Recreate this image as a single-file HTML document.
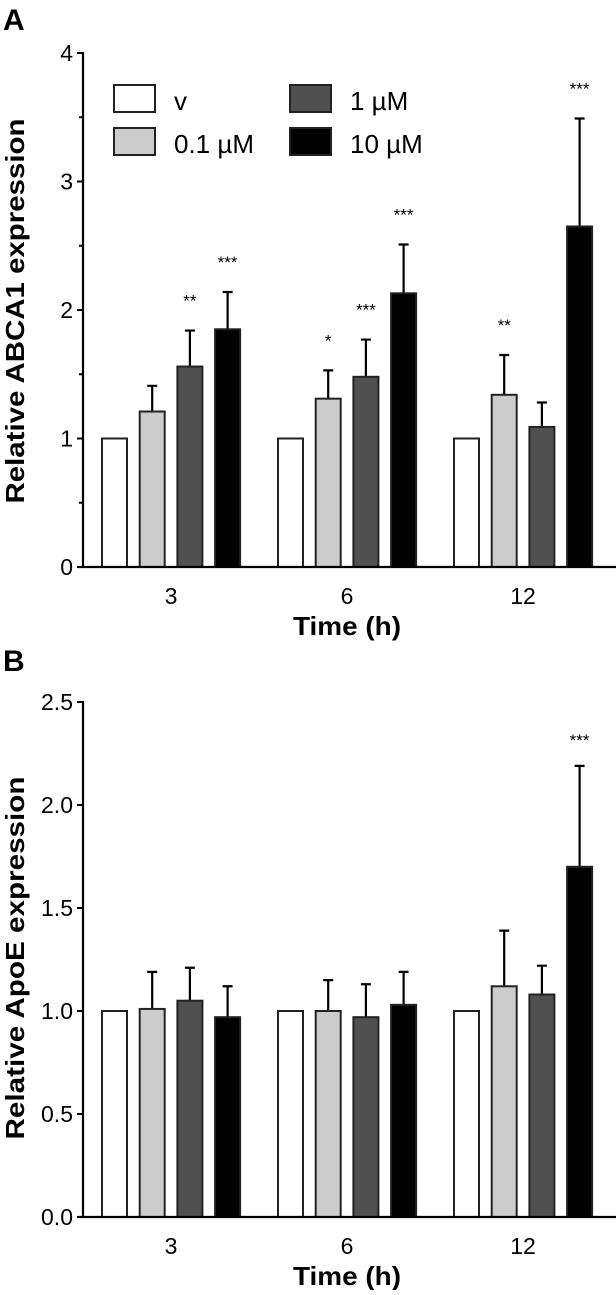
<!DOCTYPE html>
<html><head><meta charset="utf-8"><style>
body{margin:0;background:#fff;}
svg text{font-family:"Liberation Sans",sans-serif;fill:#000;}
</style></head><body>
<svg id="chart" width="616" height="1290" xmlns="http://www.w3.org/2000/svg"></svg>
<script>
const categories=["3","6","12"];
const seriesNames=["v","0.1 µM","1 µM","10 µM"];
const seriesFill=["#ffffff","#cccccc","#505050","#000000"];
const abcaMean=[[1,1,1],[1.21,1.31,1.34],[1.56,1.48,1.09],[1.85,2.13,2.65]];
const abcaTop=[[1,1,1],[1.41,1.53,1.65],[1.84,1.77,1.28],[2.14,2.51,3.49]];
const abcaSig=[["","",""],["","*","**"],["**","***",""],["***","***","***"]];
const abcaTicks=[0,1,2,3,4];
const apoeMean=[[1,1,1],[1.01,1.0,1.12],[1.05,0.97,1.08],[0.97,1.03,1.70]];
const apoeTop=[[1,1,1],[1.19,1.15,1.39],[1.21,1.13,1.22],[1.12,1.19,2.19]];
const apoeSig=[["","",""],["","",""],["","",""],["","","***"]];
const apoeTicks=["0.0","0.5","1.0","1.5","2.0","2.5"];

const svg=document.getElementById('chart');
const NS="http://www.w3.org/2000/svg";
function mk(tag,attrs,parent){const e=document.createElementNS(NS,tag);for(const k in attrs)e.setAttribute(k,attrs[k]);(parent||svg).appendChild(e);return e;}
function txt(s,attrs,parent){const e=mk('text',attrs,parent);e.textContent=s;return e;}

function panel(opt){
  const g=mk('g',{});
  
  
  const y=v=>opt.y0-(v-0)/(opt.max)*(opt.y0-opt.yTop);
  const xGroup=i=>102+i*176;
  const bx=(i,s)=>xGroup(i)+s*37.7;
  const L=txt(opt.letter,{x:3,y:opt.letterY,'font-size':30,'font-weight':'bold'},g);
  
  for(let s=0;s<4;s++){for(let i=0;i<3;i++){
    const m=opt.mean[s][i],t=opt.top[s][i];
    const cx=bx(i,s)+12.5;
    if(t>m){const eb=mk('path',{d:`M${cx},${y(m)} V${y(t)} M${cx-5},${y(t)} H${cx+5}`,stroke:'#000','stroke-width':2.2,fill:'none'},g);
      }
    const r=mk('rect',{x:bx(i,s),y:y(m),width:25,height:y(0)-y(m),fill:seriesFill[s],stroke:'#222','stroke-width':2},g);
    
    const sg=opt.sig[s][i];
    if(sg){const st=txt(sg,{x:cx,y:y(t)-opt.sigOff,'text-anchor':'middle','font-size':17,fill:'#222'},g);
      }
  }}
  const ya=mk('line',{x1:83,y1:opt.yTop-1,x2:83,y2:opt.y0+1,stroke:'#000','stroke-width':2.2},g);
  
  const xa=mk('line',{x1:78,y1:opt.y0,x2:616,y2:opt.y0,stroke:'#000','stroke-width':2.2},g);
  
  opt.ticks.forEach((tk,k)=>{
    const v=parseFloat(tk);
    mk('line',{x1:77,y1:y(v),x2:83,y2:y(v),stroke:'#000','stroke-width':2},g);
    const tl=txt(String(tk),{x:73,y:y(v)+8,'text-anchor':'end','font-size':23},g);
    
    if(opt.minor&&k<opt.ticks.length-1){mk('line',{x1:79,y1:y(v+0.5),x2:83,y2:y(v+0.5),stroke:'#000','stroke-width':2},g);}
  });
  categories.forEach((c,i)=>{
    const xl=txt(c,{x:xGroup(i)+69,y:opt.y0+37,'text-anchor':'middle','font-size':23},g);
    
  });
  const xt=txt('Time (h)',{x:347,y:opt.y0+68,'text-anchor':'middle','font-size':26,'font-weight':'bold',textLength:108,lengthAdjust:'spacingAndGlyphs'},g);
  
  const yt=txt(opt.title,{x:0,y:0,'text-anchor':'middle','font-size':26,'font-weight':'bold',textLength:opt.titleLen,lengthAdjust:'spacingAndGlyphs',transform:`translate(24,${opt.titleY}) rotate(-90)`},g);
  
  return g;
}
panel({name:'panel-a-abca1',letter:'A',letterY:30,yTop:53,y0:567,max:4,ticks:abcaTicks,minor:true,mean:abcaMean,top:abcaTop,sig:abcaSig,sigOff:24,title:'Relative ABCA1 expression',titleY:311,titleLen:385});
panel({name:'panel-b-apoe',letter:'B',letterY:671,yTop:702,y0:1217,max:2.5,ticks:apoeTicks,minor:false,mean:apoeMean,top:apoeTop,sig:apoeSig,sigOff:20,title:'Relative ApoE expression',titleY:958,titleLen:363});

const lg=mk('g',{});


const legPos=[[114,85],[114,128],[290,85],[290,128]];
seriesNames.forEach((n,s)=>{
  const [lx,ly]=legPos[s];
  const le=mk('g',{},lg);
  
  
  mk('rect',{x:lx,y:ly,width:41,height:27,fill:seriesFill[s],stroke:'#222','stroke-width':2},le);
  txt(n,{x:lx+60,y:ly+25,'font-size':26},le);
});
</script>
</body></html>
